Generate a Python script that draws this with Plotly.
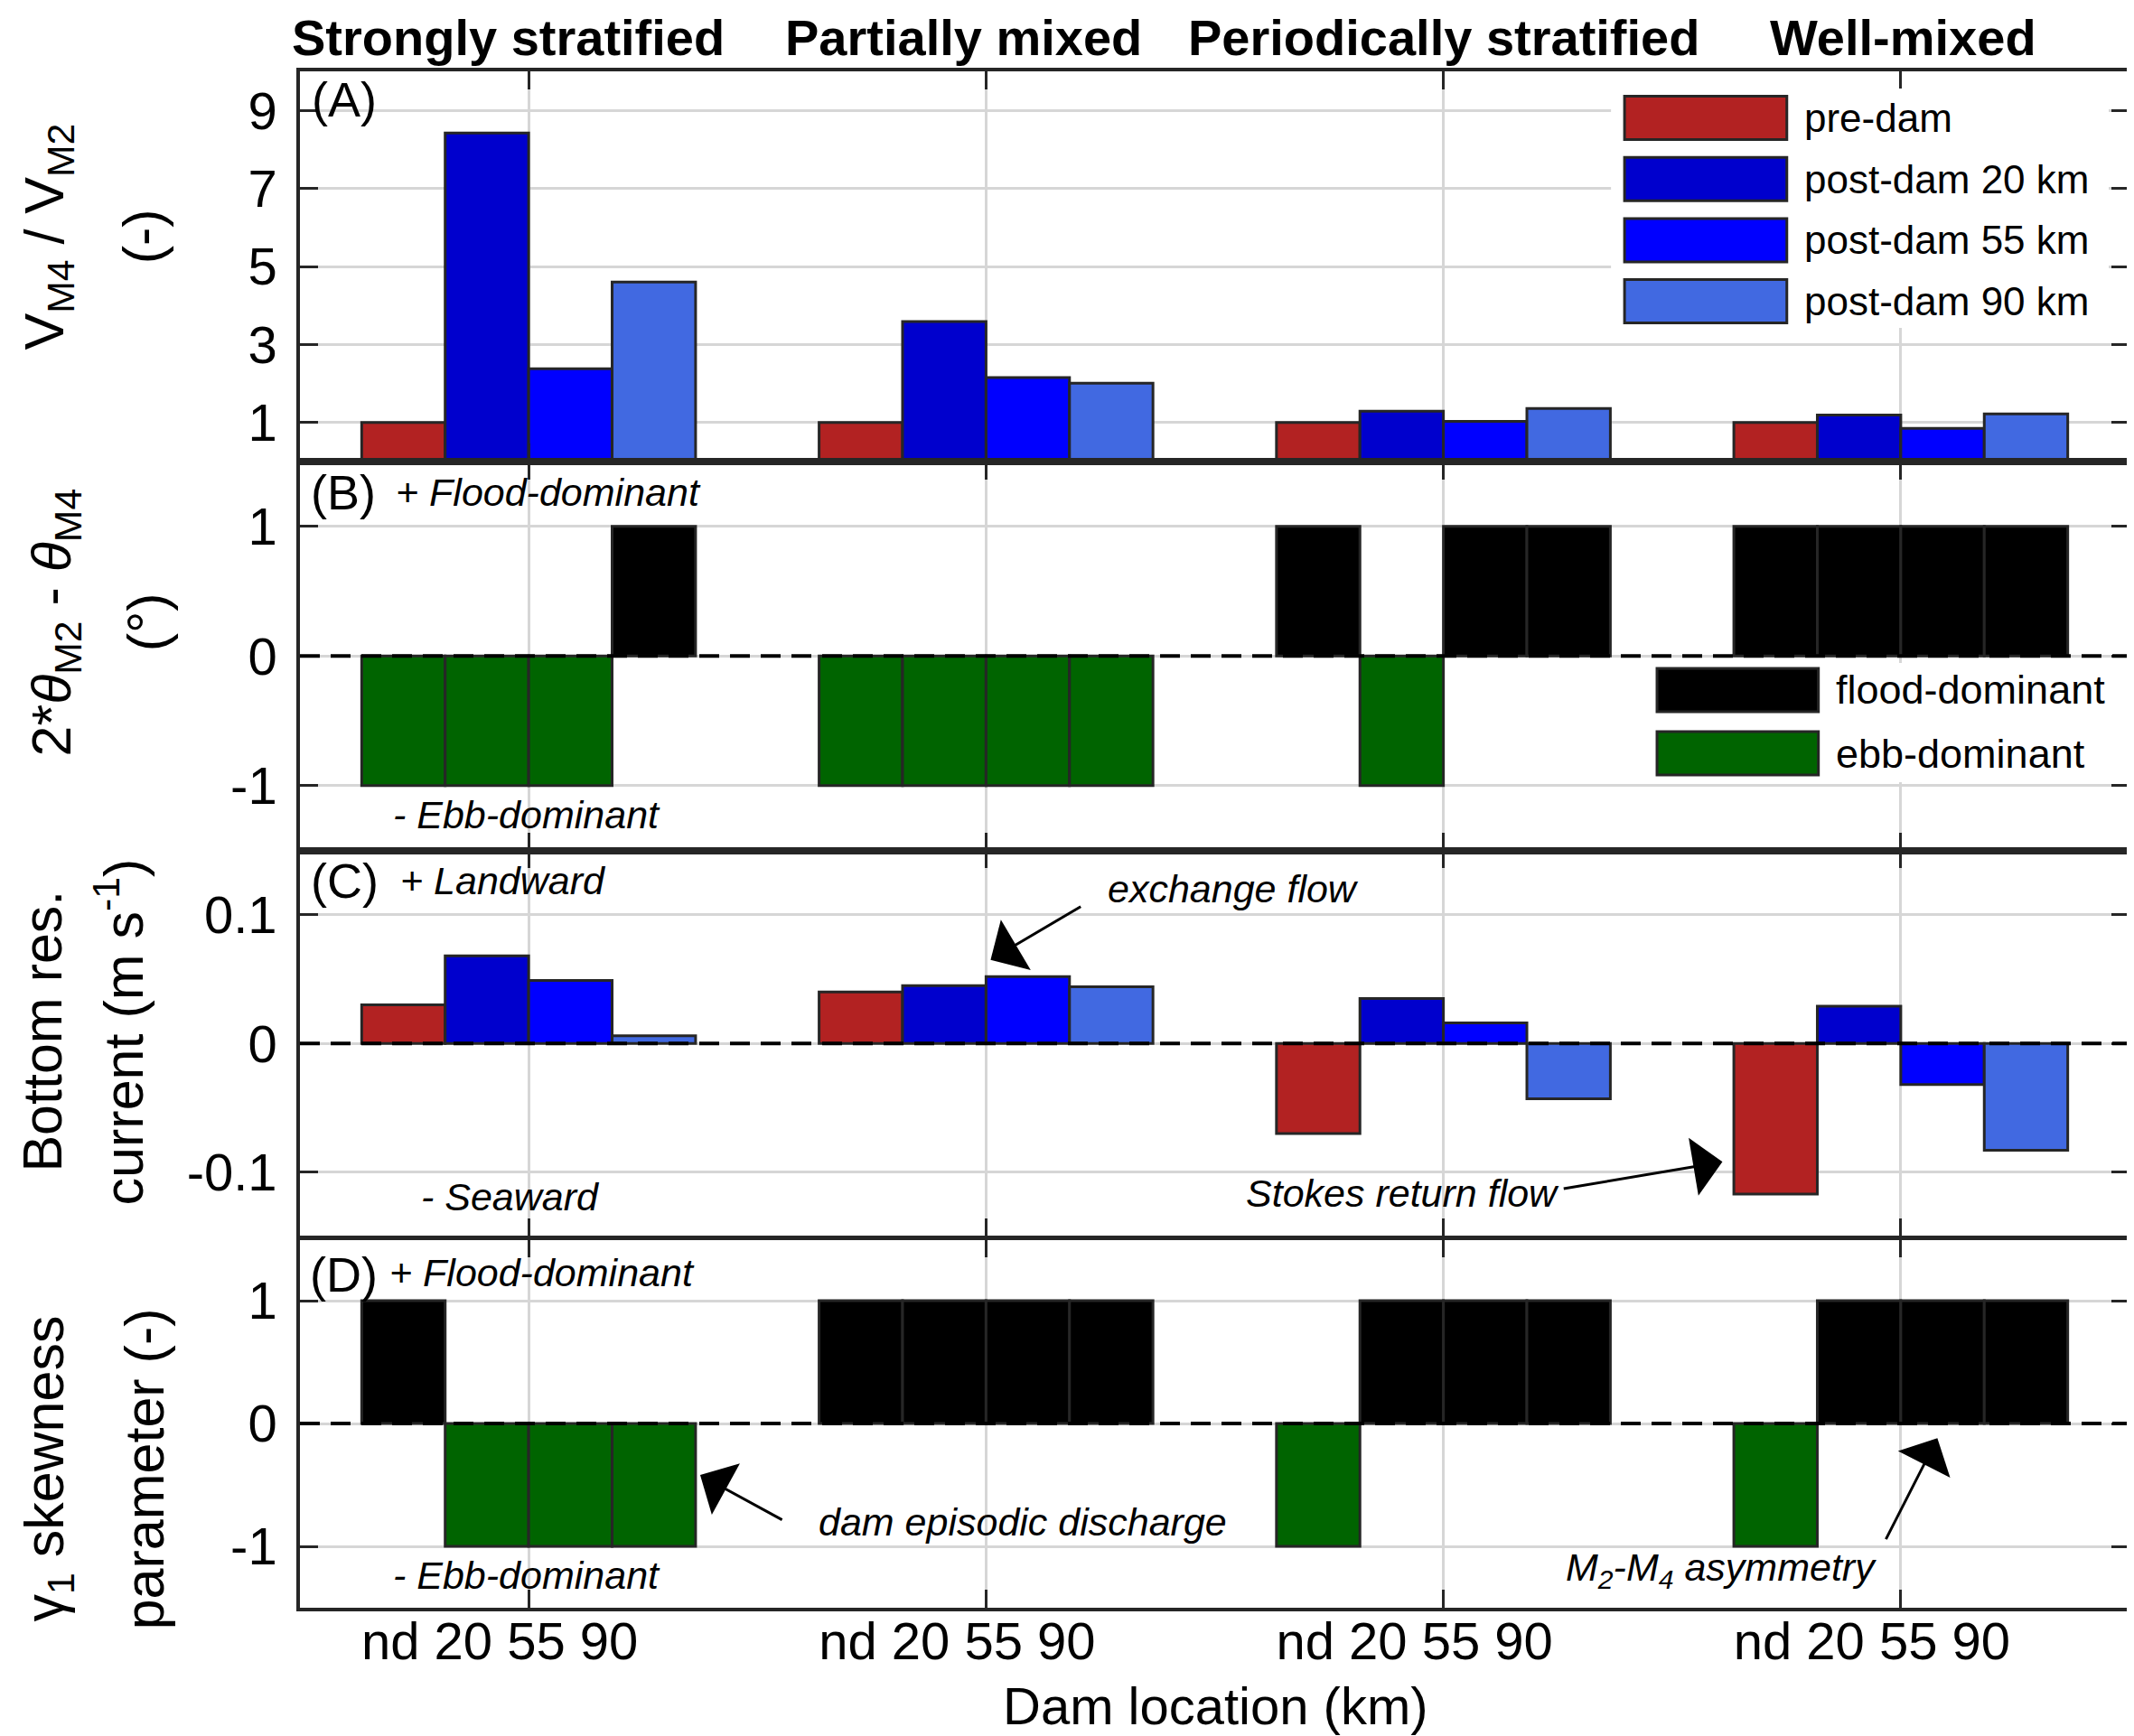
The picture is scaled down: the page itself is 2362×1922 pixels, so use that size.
import plotly.graph_objects as go

# regimes and dam locations
regimes = ['Strongly stratified', 'Partially mixed', 'Periodically stratified', 'Well-mixed']
group_pos = [1, 2, 3, 4]
group_ticktext = 'nd 20 55 90'
series_names = ['pre-dam', 'post-dam 20 km', 'post-dam 55 km', 'post-dam 90 km']
series_colors = ['#b22222', '#0000cd', '#0000ff', '#4169e1']

# (A) V_M4 / V_M2
ratio_pre = [1.0, 1.0, 1.0, 1.0]
ratio_20 = [8.42, 3.59, 1.29, 1.19]
ratio_55 = [2.38, 2.15, 1.03, 0.85]
ratio_90 = [4.6, 2.01, 1.36, 1.22]

# (B) 2*theta_M2 - theta_M4 sign (+1 flood, -1 ebb)
phase_pre = [-1, -1, 1, 1]
phase_20 = [-1, -1, -1, 1]
phase_55 = [-1, -1, 1, 1]
phase_90 = [1, -1, 1, 1]

# (C) bottom residual current (m/s)
current_pre = [0.030, 0.040, -0.070, -0.117]
current_20 = [0.068, 0.045, 0.035, 0.029]
current_55 = [0.049, 0.052, 0.016, -0.032]
current_90 = [0.006, 0.044, -0.043, -0.083]

# (D) gamma_1 skewness sign
skew_pre = [1, 1, -1, -1]
skew_20 = [-1, 1, 1, 1]
skew_55 = [-1, 1, 1, 1]
skew_90 = [-1, 1, 1, 1]

dominance_names = ['flood-dominant', 'ebb-dominant']
dominance_colors = ['#000000', '#006400']

FONT = 'Arial, Liberation Sans, sans-serif'
EDGE = '#262626'
GRID = '#d6d6d6'

W, H = 2362, 1922
L, R, T, B = 324, 2353, 71, 1772


def px(x):
    return (x - L) / (R - L)


def py(y):
    return (B - y) / (B - T)


def sign_colors(vals):
    return [dominance_colors[0] if v > 0 else dominance_colors[1] for v in vals]


def draw():
    fig = go.Figure()
    panels = [
        ('', [ratio_pre, ratio_20, ratio_55, ratio_90], None),
        ('2', [phase_pre, phase_20, phase_55, phase_90], 'sign'),
        ('3', [current_pre, current_20, current_55, current_90], None),
        ('4', [skew_pre, skew_20, skew_55, skew_90], 'sign'),
    ]
    for suffix, series, mode in panels:
        for name, color, vals in zip(series_names, series_colors, series):
            fig.add_trace(go.Bar(
                x=group_pos, y=vals, name=name,
                marker=dict(color=sign_colors(vals) if mode else color,
                            line=dict(color=EDGE, width=3)),
                xaxis='x' + suffix, yaxis='y' + suffix, showlegend=False,
            ))

    domains = [[py(503), 1.0], [py(933.5), py(503)], [py(1361), py(933.5)], [0.0, py(1364)]]
    yranges = [[0, 10], [-1.5, 1.5], [-0.15, 0.15], [-1.5, 1.5]]
    ytickvals = [[1, 3, 5, 7, 9], [-1, 0, 1], [-0.1, 0, 0.1], [-1, 0, 1]]
    yticktext = [['1', '3', '5', '7', '9'], ['-1', '0', '1'], ['-0.1', '0', '0.1'], ['-1', '0', '1']]

    common = dict(showline=True, linecolor=EDGE, linewidth=3.5, mirror='ticks',
                  ticks='inside', ticklen=20, tickwidth=3, tickcolor=EDGE,
                  showgrid=True, gridcolor=GRID, gridwidth=3, zeroline=False,
                  tickfont=dict(family=FONT, size=58, color='black'))
    layout = dict(
        width=W, height=H,
        margin=dict(l=L, r=W - R, t=T, b=H - B, pad=0),
        paper_bgcolor='white', plot_bgcolor='white',
        barmode='group', bargap=0.27, bargroupgap=0,
        font=dict(family=FONT, color='black'),
        showlegend=False,
    )
    for i in range(4):
        k = '' if i == 0 else str(i + 1)
        layout['xaxis' + k] = dict(common, range=[0.5, 4.5], tickvals=group_pos,
                                   ticktext=[group_ticktext] * 4,
                                   showticklabels=(i == 3), anchor='y' + k,
                                   ticklabelshift=-32, ticklabelstandoff=-16)
        layout['yaxis' + k] = dict(common, range=yranges[i], domain=domains[i],
                                   tickvals=ytickvals[i], ticktext=yticktext[i],
                                   anchor='x' + k, ticklabelstandoff=10)
    fig.update_layout(layout)

    shapes = []
    # dashed zero lines
    for k in ['2', '3', '4']:
        shapes.append(dict(type='line', xref='x%s domain' % k, yref='y' + k,
                           x0=0, x1=1, y0=0, y1=0,
                           line=dict(color='black', width=4, dash='22px,12px')))

    annotations = []
    # x title
    annotations.append(dict(text='Dam location (km)', xref='paper', yref='paper',
                            x=px(1340), y=py(1880), yanchor='middle', showarrow=False,
                            font=dict(family=FONT, size=58)))

    # legends
    shapes.append(dict(type='rect', xref='paper', yref='paper', x0=px(1778), x1=px(2330),
                       y0=py(355), y1=py(90), fillcolor='white', line=dict(width=0)))
    for j, (name, color) in enumerate(zip(series_names, series_colors)):
        yc = 122.5 + j * 67.7
        shapes.append(dict(type='rect', xref='paper', yref='paper', x0=px(1793), x1=px(1973),
                           y0=py(yc + 24), y1=py(yc - 24), fillcolor=color,
                           line=dict(color=EDGE, width=3)))
        annotations.append(dict(text=name, xref='paper', yref='paper', x=px(1990), y=py(yc),
                                xanchor='left', yanchor='middle', showarrow=False,
                                font=dict(family=FONT, size=44)))
    shapes.append(dict(type='rect', xref='paper', yref='paper', x0=px(1812), x1=px(2340),
                       y0=py(858), y1=py(726), fillcolor='white', line=dict(width=0)))
    for j, (name, color) in enumerate(zip(dominance_names, dominance_colors)):
        yc = 756 + j * 70
        shapes.append(dict(type='rect', xref='paper', yref='paper', x0=px(1829), x1=px(2008),
                           y0=py(yc + 24), y1=py(yc - 24), fillcolor=color,
                           line=dict(color=EDGE, width=3)))
        annotations.append(dict(text=name, xref='paper', yref='paper', x=px(2025), y=py(yc),
                                xanchor='left', yanchor='middle', showarrow=False,
                                font=dict(family=FONT, size=45)))

    # regime titles
    title_shift = [-23, -25, 0, 3]
    for xg, name, dx in zip(group_pos, regimes, title_shift):
        annotations.append(dict(text='<b>%s</b>' % name, xref='x', yref='paper', x=xg,
                                y=py(33), yanchor='middle', showarrow=False, xshift=dx,
                                font=dict(family=FONT, size=56)))

    # y titles (two lines each)
    ytitles = [
        ('V<sub>M4</sub> / V<sub>M2</sub>', '(-)', 254, 44, 150),
        ('2*<i>θ</i><sub>M2</sub> - <i>θ</i><sub>M4</sub>', '(°)', 681, 52, 155),
        ('Bottom res.', 'current (m s<sup>-1</sup>)', 1134, 38, 124),
        ('γ<sub>1</sub> skewness', 'parameter (-)', 1618, 44, 152),
    ]
    for line1, line2, yc, x1, x2 in ytitles:
        for text, xc in [(line1, x1), (line2, x2)]:
            annotations.append(dict(text=text, xref='paper', yref='paper', x=px(xc), y=py(yc),
                                    xanchor='center', yanchor='middle', textangle=-90,
                                    showarrow=False, font=dict(family=FONT, size=61)))

    # panel labels and notes
    notes = [
        ('(A)', 335, 102, 54),
        ('(B)', 334, 537, 54), ('<i>+ Flood-dominant</i>', 428, 537, 43),
        ('<i>- Ebb-dominant</i>', 425, 894, 43),
        ('(C)', 334, 967, 54), ('<i>+ Landward</i>', 433, 967, 43),
        ('<i>- Seaward</i>', 456, 1317, 43),
        ('(D)', 333, 1403, 54), ('<i>+ Flood-dominant</i>', 421, 1401, 43),
        ('<i>- Ebb-dominant</i>', 425, 1736, 43),
    ]
    for text, xl, yc, size in notes:
        annotations.append(dict(text=text, xref='paper', yref='paper', x=px(xl), y=py(yc),
                                xanchor='left', yanchor='middle', showarrow=False,
                                font=dict(family=FONT, size=size)))

    # arrows: (text, text x, text y, head x, head y, tail x, tail y, axis)
    arrows = [
        ('<i>exchange flow</i>', 2.54, 0.12, 2.01, 0.065, 2.21, 0.107, '3'),
        ('<i>Stokes return flow</i>', 2.91, -0.116, 3.61, -0.092, 3.26, -0.113, '3'),
        ('<i>dam episodic discharge</i>', 2.08, -0.80, 1.375, -0.42, 1.557, -0.79, '4'),
        ('<i>M<sub>2</sub>-M<sub>4</sub> asymmetry</i>', 3.607, -1.19, 4.08, -0.12, 3.966, -0.953, '4'),
    ]
    for text, tx, ty, hx, hy, tlx, tly, k in arrows:
        annotations.append(dict(text=text, xref='x' + k, yref='y' + k, x=tx, y=ty,
                                showarrow=False, font=dict(family=FONT, size=43)))
        annotations.append(dict(text='', xref='x' + k, yref='y' + k, x=hx, y=hy,
                                axref='x' + k, ayref='y' + k, ax=tlx, ay=tly,
                                showarrow=True, arrowhead=1, arrowsize=3.6, arrowwidth=3,
                                arrowcolor='black'))

    fig.update_layout(shapes=shapes, annotations=annotations)
    fig.write_html('out.html')


def main():
    draw()


if __name__ == '__main__':
    main()
